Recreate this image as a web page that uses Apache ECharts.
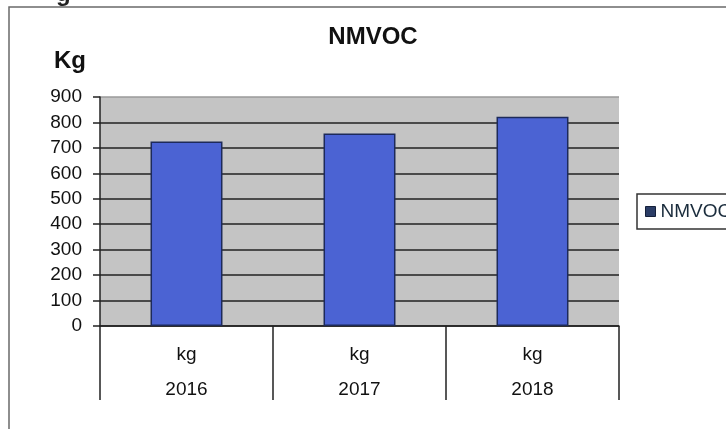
<!DOCTYPE html>
<html>
<head>
<meta charset="utf-8">
<script src="https://cdn.jsdelivr.net/npm/echarts@6/dist/echarts.min.js"></script>
<style>html,body{margin:0;padding:0;background:#fff}#c{width:726px;height:429px}</style>
</head>
<body>
<div id="c"></div>
<script>
var units = ['kg', 'kg', 'kg'];
var years = ['2016', '2017', '2018'];
var seriesName = 'NMVOC';
var values = [725, 757, 822];
var yTicks = [0, 900, 100]; // min, max, interval

var FONT = 'Liberation Sans, Arial, sans-serif';
var chart = echarts.init(document.getElementById('c'), null, {renderer: 'canvas'});
var gridColors = ['#222', '#222', '#222', '#222', '#222', '#222', '#222', '#222', '#222', '#9a9a9a'];
chart.setOption({
  animation: false,
  backgroundColor: '#fff',
  graphic: [
    {type: 'rect', shape: {x: 9, y: 7, width: 800, height: 500}, style: {fill: 'none', stroke: '#6a6a6a', lineWidth: 1.5}, z: 0},
    {type: 'text', x: 373, y: 37, style: {text: 'NMVOC', font: 'bold 24px ' + FONT, fill: '#111', align: 'center', verticalAlign: 'middle'}},
    {type: 'text', x: 54, y: 61, style: {text: 'Kg', font: 'bold 24px ' + FONT, fill: '#111', align: 'left', verticalAlign: 'middle'}},
    {type: 'text', x: 56, y: -6, style: {text: 'g', font: 'bold 24px ' + FONT, fill: '#222', align: 'left', verticalAlign: 'middle'}}
  ],
  legend: {
    show: true,
    left: 637, top: 194,
    orient: 'vertical',
    padding: [8, 30, 8, 8],
    borderColor: '#333', borderWidth: 1.5, backgroundColor: '#fff',
    itemWidth: 10, itemHeight: 10,
    icon: 'rect',
    itemStyle: {color: '#2b3d66', borderColor: '#15203a', borderWidth: 1},
    textStyle: {fontFamily: FONT, fontSize: 19, color: '#1a2c3c'},
    data: [seriesName]
  },
  grid: {left: 100, right: 107, top: 97, bottom: 103, show: true, backgroundColor: '#c4c4c4', borderWidth: 0},
  xAxis: [
    {
      type: 'category', data: units, position: 'bottom',
      axisLine: {show: true, lineStyle: {color: '#222', width: 1.5}},
      axisTick: {show: true, length: 74, alignWithLabel: false, interval: 0, lineStyle: {color: '#222', width: 1.5}},
      axisLabel: {fontFamily: FONT, fontSize: 19, color: '#111', margin: 29, verticalAlign: 'middle', interval: 0}
    },
    {
      type: 'category', data: years, position: 'bottom', offset: 0,
      axisLine: {show: false}, axisTick: {show: false},
      axisLabel: {fontFamily: FONT, fontSize: 19, color: '#111', margin: 64, verticalAlign: 'middle', interval: 0}
    }
  ],
  yAxis: {
    type: 'value', min: yTicks[0], max: yTicks[1], interval: yTicks[2],
    axisLine: {show: true, lineStyle: {color: '#222', width: 1.5}},
    axisTick: {show: true, length: 7, lineStyle: {color: '#222', width: 1.5}},
    axisLabel: {fontFamily: FONT, fontSize: 19, color: '#111', margin: 18},
    splitLine: {show: true, lineStyle: {color: gridColors, width: 1.5}}
  },
  series: [{
    name: seriesName, type: 'bar', xAxisIndex: 0, data: values,
    barWidth: '41.6%',
    itemStyle: {color: '#4b63d3', borderColor: '#1d2a5a', borderWidth: 1.5}
  }]
});
</script>
</body>
</html>
